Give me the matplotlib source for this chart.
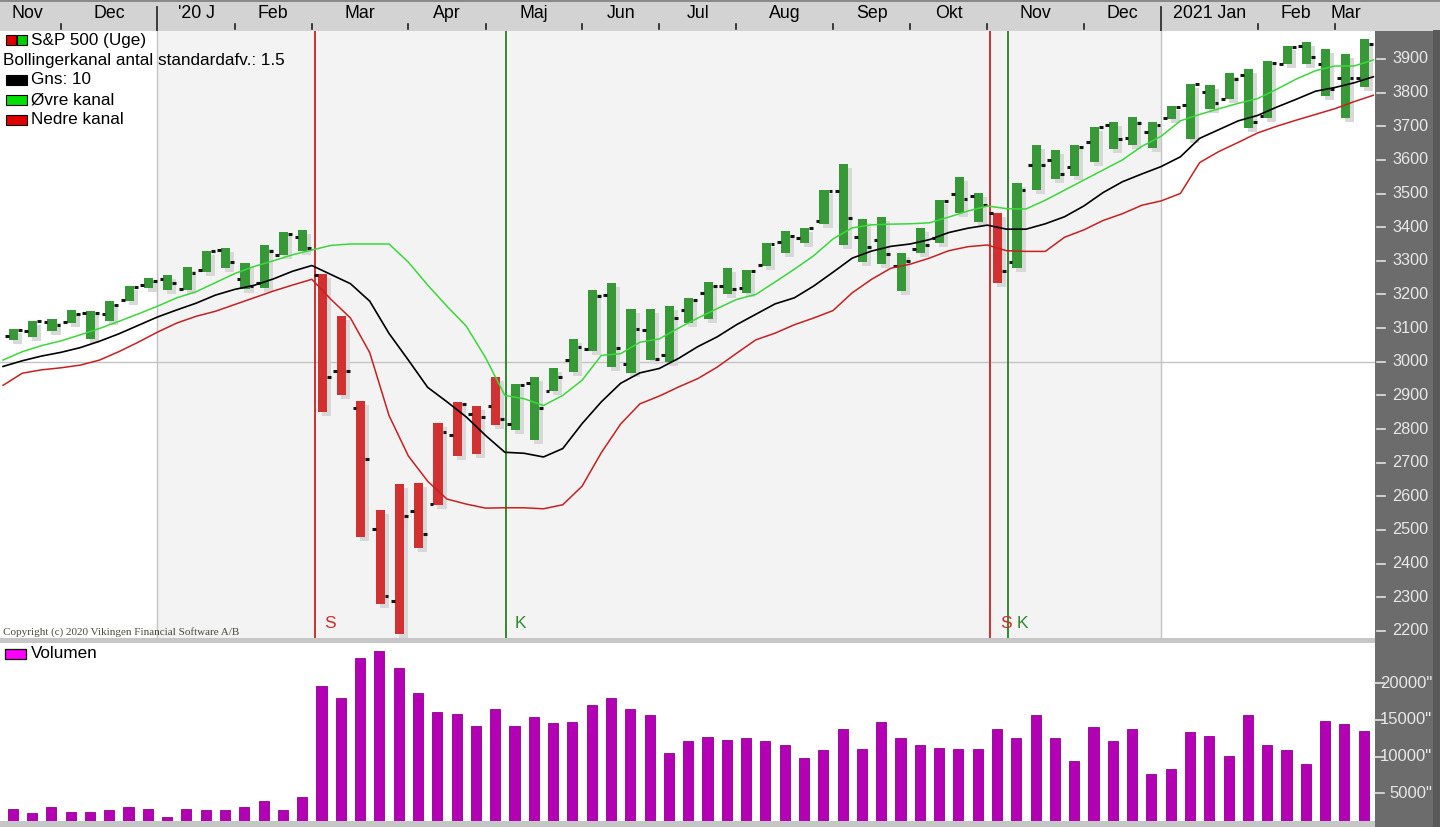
import numpy as np
import pandas as pd
import matplotlib
matplotlib.use("Agg")
import matplotlib.pyplot as plt
from matplotlib.patches import Rectangle
from matplotlib import transforms

# ---------------- data ----------------
week_end = pd.date_range("2019-11-10", periods=71, freq="7D")

open_ = [3078, 3090, 3118, 3117, 3144, 3141, 3183, 3227, 3247, 3217,
         3273, 3333, 3247, 3235, 3318, 3370, 3257, 2974, 2863, 2504,
         2290, 2555, 2578, 2782, 2845, 2869, 2815, 2936, 2914, 3005,
         3038, 3199, 2994, 3094, 3019, 3155, 3205, 3224, 3219, 3288,
         3356, 3368, 3418, 3508, 3371, 3363, 3285, 3334, 3367, 3500,
         3493, 3441, 3296, 3584, 3600, 3579, 3653, 3705, 3665, 3684,
         3723, 3764, 3803, 3781, 3851, 3731, 3886, 3939, 3886, 3842, 3844]
high = [3098, 3120, 3128, 3154, 3150, 3182, 3226, 3248, 3258, 3282,
        3330, 3337, 3293, 3347, 3385, 3393, 3260, 3137, 2882, 2560,
        2637, 2641, 2819, 2879, 2868, 2955, 2934, 2955, 2980, 3068,
        3213, 3233, 3156, 3156, 3166, 3188, 3238, 3279, 3272, 3352,
        3389, 3399, 3509, 3588, 3425, 3429, 3322, 3398, 3482, 3550,
        3502, 3441, 3530, 3645, 3628, 3645, 3699, 3713, 3726, 3713,
        3760, 3826, 3823, 3859, 3870, 3895, 3938, 3950, 3929, 3916, 3960]
low = [3066, 3075, 3090, 3115, 3068, 3122, 3181, 3220, 3212, 3214,
       3268, 3278, 3216, 3218, 3316, 3328, 2852, 2900, 2480, 2280,
       2192, 2447, 2575, 2720, 2726, 2812, 2798, 2766, 2913, 2969,
       3032, 2984, 2966, 3004, 2998, 3115, 3127, 3200, 3204, 3284,
       3324, 3352, 3408, 3347, 3295, 3292, 3209, 3324, 3352, 3441,
       3415, 3233, 3278, 3511, 3543, 3552, 3593, 3632, 3645, 3635,
       3720, 3663, 3750, 3780, 3694, 3725, 3884, 3885, 3789, 3723, 3816]
close = [3093, 3120, 3110, 3141, 3146, 3169, 3221, 3240, 3235, 3265,
         3330, 3295, 3226, 3328, 3380, 3338, 2954, 2972, 2711, 2305,
         2541, 2489, 2790, 2875, 2837, 2831, 2930, 2864, 2955, 3044,
         3194, 3041, 3098, 3009, 3130, 3185, 3225, 3215, 3271, 3351,
         3373, 3397, 3508, 3427, 3341, 3319, 3298, 3348, 3477, 3484,
         3465, 3270, 3509, 3585, 3557, 3638, 3699, 3663, 3709, 3703,
         3756, 3825, 3768, 3841, 3714, 3887, 3934, 3907, 3811, 3842, 3943]

# channel lines (first value belongs to the week before the first bar)
gns10 = [2986,
         3003, 3017, 3028, 3042, 3061, 3083, 3108, 3133, 3154, 3174,
         3198, 3215, 3227, 3246, 3269, 3286, 3259, 3232, 3180, 3084,
         3005, 2924, 2881, 2836, 2781, 2731, 2728, 2717, 2742, 2816,
         2881, 2936, 2967, 2980, 3010, 3045, 3074, 3110, 3141, 3172,
         3190, 3225, 3266, 3308, 3329, 3343, 3350, 3363, 3384, 3397,
         3406, 3394, 3394, 3410, 3431, 3463, 3503, 3535, 3558, 3580,
         3609, 3664, 3690, 3716, 3732, 3757, 3780, 3804, 3815, 3829, 3847]
upper = [3005,
         3030, 3048, 3062, 3080, 3099, 3120, 3142, 3165, 3190, 3208,
         3235, 3262, 3283, 3300, 3318, 3332, 3346, 3350, 3350, 3350,
         3296, 3228, 3165, 3106, 3012, 2900, 2890, 2870, 2900, 2945,
         3019, 3024, 3058, 3068, 3100, 3130, 3158, 3185, 3200, 3237,
         3275, 3315, 3365, 3398, 3407, 3409, 3410, 3413, 3430, 3448,
         3463, 3455, 3454, 3480, 3510, 3540, 3570, 3600, 3640, 3670,
         3716, 3735, 3752, 3768, 3782, 3810, 3840, 3865, 3879, 3879, 3897]
lower = [2930,
         2966, 2976, 2982, 2990, 3005, 3030, 3058, 3088, 3115, 3135,
         3150, 3170, 3190, 3210, 3228, 3245, 3185, 3130, 3027, 2840,
         2720, 2645, 2592, 2577, 2565, 2566, 2566, 2563, 2575, 2630,
         2730, 2815, 2875, 2898, 2925, 2950, 2984, 3025, 3065, 3085,
         3110, 3130, 3152, 3205, 3245, 3278, 3290, 3308, 3330, 3342,
         3347, 3330, 3328, 3328, 3370, 3392, 3420, 3440, 3465, 3478,
         3500, 3592, 3625, 3652, 3680, 3700, 3718, 3735, 3752, 3773, 3792]

volume = [2860, 2270, 3090, 2490, 2450, 2680, 3090, 2860, 1810, 2860,
          2680, 2680, 3090, 3910, 2680, 4540, 19610, 17940, 23380, 24420,
          22110, 18660, 16070, 15800, 14160, 16480, 14160, 15390, 14570, 14710,
          17030, 17980, 16480, 15660, 10490, 12120, 12670, 12260, 12530, 12120,
          11580, 9810, 10900, 13760, 11030, 14710, 12530, 11580, 11170, 11030,
          11030, 13760, 12530, 15660, 12530, 9400, 14030, 12120, 13760, 7630,
          8310, 13350, 12800, 10080, 15660, 11580, 10900, 8990, 14850, 14440, 13480]

red_bars = [16, 17, 18, 19, 20, 21, 22, 23, 24, 25, 51]
sell_bars = [16, 51]   # first bar after an S signal
buy_bars = [26, 52]    # first bar after a K signal

month_labels = ["Nov", "Dec", "'20 J", "Feb", "Mar", "Apr", "Maj", "Jun", "Jul",
                "Aug", "Sep", "Okt", "Nov", "Dec", "2021 Jan", "Feb", "Mar"]
price_ticks = [2200, 2300, 2400, 2500, 2600, 2700, 2800, 2900, 3000,
               3100, 3200, 3300, 3400, 3500, 3600, 3700, 3800, 3900]
volume_ticks = [5000, 10000, 15000, 20000]
volume_ticklabels = ['5000"', '10000"', '15000"', '20000"']

legend_items = [("S&P 500 (Uge)", "candle"),
                ("Bollingerkanal antal standardafv.: 1.5", None),
                ("Gns: 10", "#000000"),
                ("\u00d8vre kanal", "#00e000"),
                ("Nedre kanal", "#e00000")]

# ---------------- layout ----------------
W, H = 1440, 827
fig = plt.figure(figsize=(14.4, 8.27), dpi=100, facecolor="#c6c6c6")


def fr(x0, y0, x1, y1):
    return [x0 / W, 1 - y1 / H, (x1 - x0) / W, (y1 - y0) / H]


FONT = ["Liberation Sans", "DejaVu Sans"]
n = len(close)
x = np.arange(n)
XL = (-0.658, 70.585)

# right dark panel + header background (behind everything)
fig.patches.append(Rectangle((1375 / W, 0), 65 / W, 1 - 30 / H, transform=fig.transFigure,
                             facecolor="#6c6c6c", edgecolor="none", zorder=-5))
fig.patches.append(Rectangle((1433 / W, 0), 7 / W, 1 - 30 / H, transform=fig.transFigure,
                             facecolor="#5a5a5a", edgecolor="none", zorder=-4))
fig.patches.append(Rectangle((0, 1 - 31 / H), 1, 31 / H, transform=fig.transFigure,
                             facecolor="#d3d3d3", edgecolor="none", zorder=-5))
fig.patches.append(Rectangle((0, 1 - 2 / H), 1, 2 / H, transform=fig.transFigure,
                             facecolor="#8a8a8a", edgecolor="none", zorder=-4))

axh = fig.add_axes(fr(0, 0, 1375, 31))
axp = fig.add_axes(fr(0, 31, 1375, 638))
axv = fig.add_axes(fr(0, 643, 1375, 821))

for ax in (axh, axp, axv):
    ax.set_xlim(*XL)
    for s in ax.spines.values():
        s.set_visible(False)
    ax.set_xticks([])
    ax.set_yticks([])

# ---------------- header ----------------
axh.set_facecolor("none")
axh.set_ylim(31, 0)
bounds = [i + 0.5 for i in range(n - 1) if week_end[i + 1].month != week_end[i].month]
year_bounds = [i + 0.5 for i in range(n - 1) if week_end[i + 1].year != week_end[i].year]
for b in bounds:
    if b in year_bounds:
        axh.plot([b, b], [7, 31], color="#303030", lw=1.3)
    else:
        axh.plot([b, b], [24, 29], color="#202020", lw=1.2)
edges = [XL[0]] + bounds + [XL[1]]
for k, lab in enumerate(month_labels):
    if k == 0:
        axh.text(XL[0] + 0.6, 13, lab, ha="left", va="center", fontsize=12.8, family=FONT)
    elif k == len(month_labels) - 1:
        axh.text(69.85, 13, lab, ha="right", va="center", fontsize=12.8, family=FONT)
    else:
        axh.text((edges[k] + edges[k + 1]) / 2, 13, lab, ha="center", va="center",
                 fontsize=12.8, family=FONT)

# ---------------- price panel ----------------
axp.set_facecolor("white")
axp.set_ylim(2179, 3983)
axp.axvspan(year_bounds[0], year_bounds[1], color="#f3f3f3", zorder=0)
for b in year_bounds:
    axp.axvline(b, color="#c4c4c4", lw=1.0, zorder=1)
axp.axhline(3000, color="#c4c4c4", lw=1.0, zorder=1)

shadow_tr = axp.transData + transforms.ScaledTranslation(4 / 100, -4 / 100, fig.dpi_scale_trans)
for i in range(n):
    col = "#d13131" if i in red_bars else "#379837"
    axp.add_patch(Rectangle((i - 0.2, low[i]), 0.47, high[i] - low[i], transform=shadow_tr,
                            facecolor="#d8d8d8", edgecolor="none", zorder=2))
    axp.add_patch(Rectangle((i - 0.2, low[i]), 0.47, high[i] - low[i],
                            facecolor=col, edgecolor="none", zorder=3))
    axp.plot([i - 0.39, i - 0.2], [open_[i], open_[i]], color="#151515", lw=2.2,
             solid_capstyle="butt", zorder=4)
    axp.plot([i + 0.27, i + 0.47], [close[i], close[i]], color="#151515", lw=2.2,
             solid_capstyle="butt", zorder=4)

xl = np.arange(-1, n) + 0.5
axp.plot(xl, upper, color="#3ad83a", lw=1.1, zorder=5)
axp.plot(xl, gns10, color="#000000", lw=1.2, zorder=5)
axp.plot(xl, lower, color="#c82020", lw=1.1, zorder=5)

for b in sell_bars:
    axp.axvline(b - 0.35, color="#cc3030", lw=1.4, zorder=2.5)
    axp.text(b - 0.35 + 0.5, 2222, "S", color="#cc3030", fontsize=12.5, family=FONT,
             ha="left", va="center", zorder=6)
for b in buy_bars:
    axp.axvline(b - 0.43, color="#2f8a2f", lw=1.4, zorder=2.5)
    axp.text(b - 0.43 + 0.45, 2222, "K", color="#2f8a2f", fontsize=12.5, family=FONT,
             ha="left", va="center", zorder=6)

axp.text(3 / 1375, (638 - 632) / 607, "Copyright (c) 2020 Vikingen Financial Software A/B",
         transform=axp.transAxes, fontsize=8, family=["Liberation Serif", "DejaVu Serif"],
         color="#4a4a3c", ha="left", va="center", zorder=6)


def pax(px, py, top=31, bottom=638):
    return px / 1375, (bottom - py) / (bottom - top)


for k, (lab, kind) in enumerate(legend_items):
    yy = 40 + 20 * k
    if kind is None:
        axp.text(*pax(3, yy), lab, transform=axp.transAxes, fontsize=12.3, family=FONT,
                 ha="left", va="center", zorder=7)
        continue
    if kind == "candle":
        for x0, c in ((6, "#e00000"), (17, "#00d000")):
            xa, ya = pax(x0, yy + 5)
            axp.add_patch(Rectangle((xa, ya), 10 / 1375, 10 / 607, transform=axp.transAxes,
                                    facecolor=c, edgecolor="black", lw=0.8, zorder=7))
    else:
        xa, ya = pax(6, yy + 5)
        axp.add_patch(Rectangle((xa, ya), 21 / 1375, 10 / 607, transform=axp.transAxes,
                                facecolor=kind, edgecolor="black", lw=0.8, zorder=7))
    axp.text(*pax(31, yy), lab, transform=axp.transAxes, fontsize=12.3, family=FONT,
             ha="left", va="center", zorder=7)

ytr = axp.get_yaxis_transform()
for v in price_ticks:
    axp.plot([1.0015, 1.0075], [v, v], transform=ytr, color="#e2e2e2", lw=1.2, clip_on=False)
    axp.text(1 + 17 / 1375, v, str(v), transform=ytr, color="#e8e8e8", fontsize=11.7,
             family=FONT, ha="left", va="center", clip_on=False)

# ---------------- volume panel ----------------
axv.set_facecolor("white")
axv.set_ylim(1226, 25469)
axv.bar(x, volume, width=0.52, color="#b400b4", edgecolor="#8c008c", lw=0.6, zorder=3)
xa, ya = 5 / 1375, (821 - 659) / 178
axv.add_patch(Rectangle((xa, ya), 21 / 1375, 10 / 178, transform=axv.transAxes,
                        facecolor="#ff00ff", edgecolor="black", lw=0.9, zorder=7))
axv.text(31 / 1375, (821 - 654) / 178, "Volumen", transform=axv.transAxes, fontsize=12.3,
         family=FONT, ha="left", va="center", zorder=7)
vtr = axv.get_yaxis_transform()
for v, lab in zip(volume_ticks, volume_ticklabels):
    axv.plot([1.0, 1.0065], [v, v], transform=vtr, color="#e2e2e2", lw=1.2, clip_on=False)
    axv.text(1 + 57 / 1375, v, lab, transform=vtr, color="#e8e8e8", fontsize=12,
             family=FONT, ha="right", va="center", clip_on=False)

fig.savefig("out.png", dpi=100, facecolor=fig.get_facecolor())
